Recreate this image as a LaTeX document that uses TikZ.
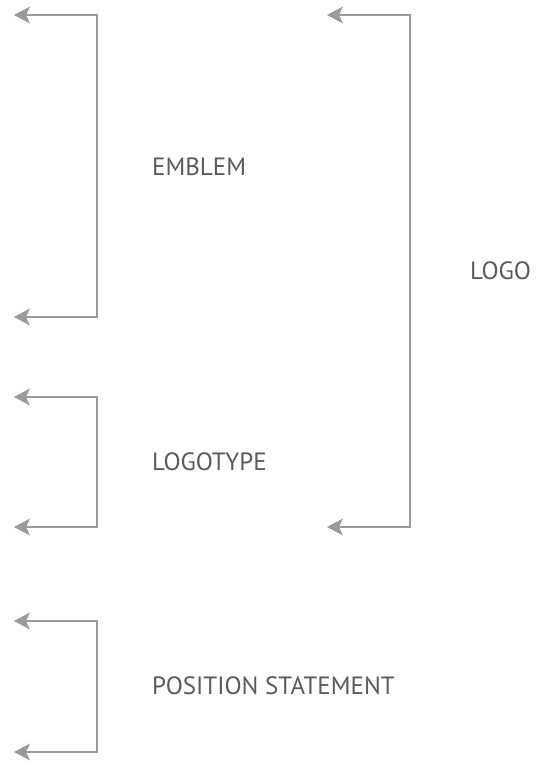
\documentclass[tikz,border=0pt]{standalone}
\usepackage{fontspec}
\setmainfont{PT Sans}
\usetikzlibrary{arrows.meta}
\definecolor{rulegray}{HTML}{9A9A9A}
\definecolor{labelgray}{HTML}{5A5A5A}

\begin{document}
\begin{tikzpicture}[x=1pt, y=-1pt, >={Stealth[length=16pt,width=17pt,inset=4pt]}]
        \tikzset{
            bracket/.style={<->, draw=rulegray, line width=1.3pt},
            partlabel/.style={anchor=west, inner sep=0pt, text=labelgray,
                font=\fontsize{25}{30}\selectfont}
        }
        \useasboundingbox (0,0) rectangle (544,763);
        % left brackets: one for each part of the mark
        \coordinate (e1) at (14,15);
        \coordinate (e2) at (14,317);
        \coordinate (t1) at (14,397);
        \coordinate (t2) at (14,527);
        \coordinate (p1) at (14,621);
        \coordinate (p2) at (14,752);
        \draw[bracket] (e1) -- (97,15) -- (97,317) -- (e2);
        \draw[bracket] (t1) -- (97,397) -- (97,527) -- (t2);
        \draw[bracket] (p1) -- (97,621) -- (97,752) -- (p2);
        % right bracket spans emblem and logotype
        \coordinate (l1) at (327,15);
        \coordinate (l2) at (327,527);
        \draw[bracket] (l1) -- (410,15) -- (410,527) -- (l2);
        \node[partlabel] (emblem) at (152,167) {EMBLEM};
        \node[partlabel] (logotype) at (152,462) {LOGOTYPE};
        \node[partlabel] (statement) at (152,686) {POSITION STATEMENT};
        \node[partlabel] (logo) at (470,271) {LOGO};
    \end{tikzpicture}
\end{document}
